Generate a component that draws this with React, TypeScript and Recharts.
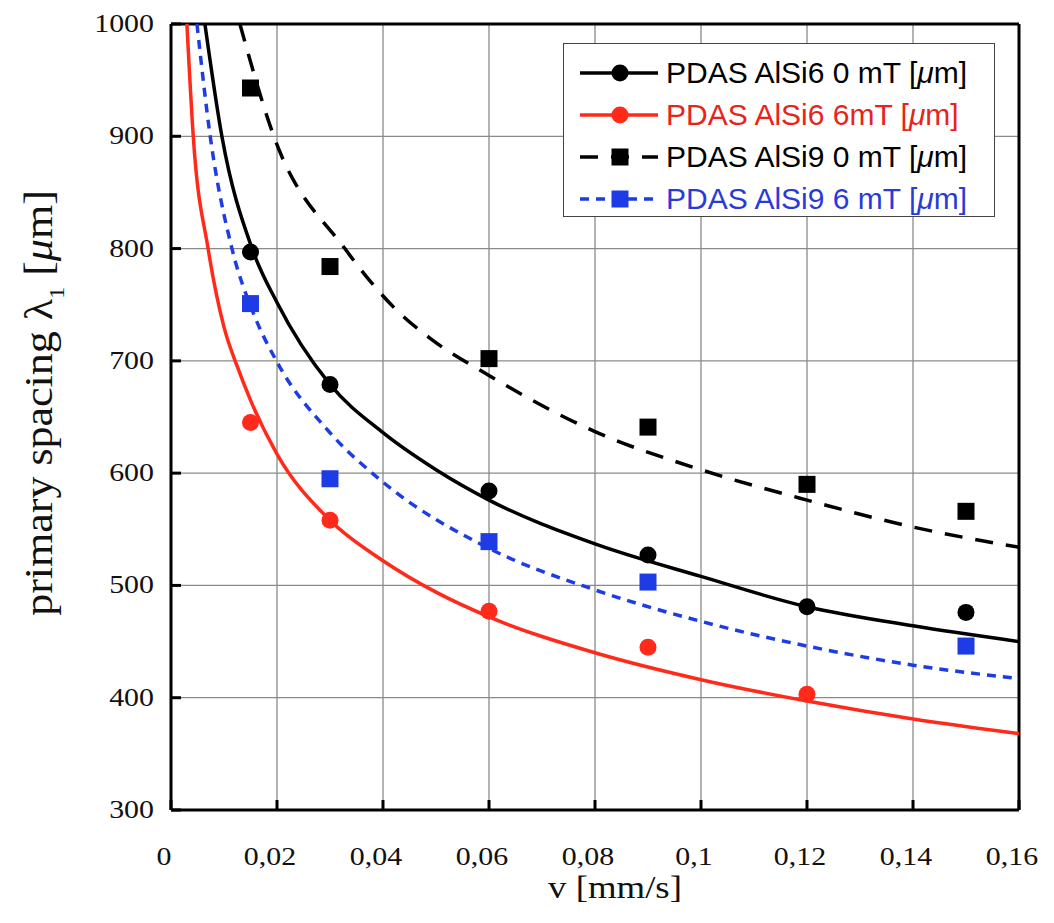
import { CartesianGrid, Legend, Scatter, ScatterChart, XAxis, YAxis } from 'recharts';

// axis ticks
const X_TICKS = [0, 0.02, 0.04, 0.06, 0.08, 0.1, 0.12, 0.14, 0.16];
const Y_TICKS = [300, 400, 500, 600, 700, 800, 900, 1000];

// measured PDAS values [µm] at the growth velocities v [mm/s]
const V_ALSI6_0 = [0.015, 0.03, 0.06, 0.09, 0.12, 0.15];
const PDAS_ALSI6_0 = [797, 679, 584, 527, 481, 476];
const V_ALSI6_6 = [0.015, 0.03, 0.06, 0.09, 0.12];
const PDAS_ALSI6_6 = [645, 558, 477, 445, 403];
const V_ALSI9_0 = [0.015, 0.03, 0.06, 0.09, 0.12, 0.15];
const PDAS_ALSI9_0 = [943, 784, 702, 641, 590, 566];
const V_ALSI9_6 = [0.015, 0.03, 0.06, 0.09, 0.15];
const PDAS_ALSI9_6 = [751, 595, 539, 503, 446];

// fitted curves as [v, λ1]
const FIT_ALSI6_0: [number, number][] = [
  [0.0064, 1000], [0.0096, 900], [0.0153, 800], [0.02, 752], [0.03, 679], [0.04, 636],
  [0.05, 603], [0.06, 576], [0.08, 537], [0.1, 508], [0.12, 481], [0.14, 464], [0.16, 450],
];
const FIT_ALSI6_6: [number, number][] = [
  [0.003, 1000], [0.0042, 900], [0.007, 800], [0.01, 730], [0.0125, 695], [0.015, 665],
  [0.02, 617], [0.03, 558], [0.04, 522], [0.05, 494], [0.06, 472], [0.08, 440], [0.1, 416],
  [0.12, 397], [0.14, 381], [0.16, 368],
];
const FIT_ALSI9_0: [number, number][] = [
  [0.013, 1000], [0.0194, 900], [0.0328, 800], [0.0426, 745], [0.0489, 720], [0.06, 687],
  [0.08, 637], [0.1, 603], [0.12, 576], [0.14, 552], [0.16, 534],
];
const FIT_ALSI9_6: [number, number][] = [
  [0.0049, 1000], [0.0074, 900], [0.0115, 800], [0.0155, 743], [0.02, 699], [0.03, 636],
  [0.04, 592], [0.06, 533], [0.08, 496], [0.1, 468], [0.12, 446], [0.14, 429], [0.16, 417],
];

const RED = '#ff2a1a';
const BLUE = '#1e3ce6';

const SERIES = [
  { key: 'a6-0', label: 'AlSi6 0 mT', v: V_ALSI6_0, y: PDAS_ALSI6_0, fit: FIT_ALSI6_0, color: '#000', text: '#000', dash: undefined, marker: 'circle' },
  { key: 'a6-6', label: 'AlSi6 6mT', v: V_ALSI6_6, y: PDAS_ALSI6_6, fit: FIT_ALSI6_6, color: RED, text: '#e8231a', dash: undefined, marker: 'circle' },
  { key: 'a9-0', label: 'AlSi9 0 mT', v: V_ALSI9_0, y: PDAS_ALSI9_0, fit: FIT_ALSI9_0, color: '#000', text: '#000', dash: '18 13', marker: 'square' },
  { key: 'a9-6', label: 'AlSi9 6 mT', v: V_ALSI9_6, y: PDAS_ALSI9_6, fit: FIT_ALSI9_6, color: BLUE, text: '#2a3ad8', dash: '9 7', marker: 'square' },
];

const SERIF = '"Liberation Serif", "Times New Roman", serif';
const SANS = '"Liberation Sans", Arial, sans-serif';

function marker(kind: string, color: string, cx: number, cy: number) {
  if (kind === 'square') return <rect x={cx - 8.5} y={cy - 8.5} width={17} height={17} fill={color} />;
  return <circle cx={cx} cy={cy} r={8.5} fill={color} />;
}

function XTick({ x, y, payload }: any) {
  const label = String(payload.value).replace('.', ',');
  return (
    <g transform={`translate(${x - 7},${y + 55}) scale(1.15,1)`}>
      <text textAnchor="middle" fontFamily={SERIF} fontSize={26} fill="#111">{label}</text>
    </g>
  );
}

function YTick({ x, y, payload }: any) {
  return (
    <g transform={`translate(${x - 17},${y + 8}) scale(1.15,1)`}>
      <text textAnchor="end" fontFamily={SERIF} fontSize={26} fill="#111">{payload.value}</text>
    </g>
  );
}

function XTitle({ viewBox }: any) {
  const cx = viewBox.x + viewBox.width / 2 + 20;
  return (
    <g transform={`translate(${cx},${viewBox.y + 88}) scale(1.15,1)`}>
      <text textAnchor="middle" fontFamily={SERIF} fontSize={32} fill="#111">v [mm/s]</text>
    </g>
  );
}

function YTitle({ viewBox }: any) {
  const cy = viewBox.y + viewBox.height / 2 - 14;
  return (
    <g transform={`translate(${viewBox.x + 44},${cy}) rotate(-90) scale(1.1,1)`}>
      <text textAnchor="middle" fontFamily={SERIF} fontSize={40} fill="#111">
        primary spacing λ
        <tspan fontSize={22} dy={12}>1</tspan>
        <tspan dy={-12}> [</tspan>
        <tspan fontStyle="italic">μ</tspan>m]
      </text>
    </g>
  );
}

function LegendBox() {
  return (
    <div
      style={{
        width: 432,
        height: 174,
        boxSizing: 'border-box',
        border: '1.5px solid #444',
        background: '#fff',
        paddingTop: 8,
      }}
    >
      {SERIES.map((s) => (
        <div key={s.key} style={{ height: 42, display: 'flex', alignItems: 'center' }}>
          <svg width={102} height={42} style={{ flex: 'none' }}>
            <line x1={16} x2={94} y1={21} y2={21} stroke={s.color} strokeWidth={3.5} strokeDasharray={s.dash} />
            {marker(s.marker, s.color, 56, 21)}
          </svg>
          <span style={{ fontFamily: SANS, fontSize: 30, color: s.text, whiteSpace: 'nowrap', lineHeight: 1 }}>
            PDAS {s.label} [<i>μ</i>m]
          </span>
        </div>
      ))}
    </div>
  );
}

export default function App() {
  return (
    <div style={{ width: 1038, height: 907 }}>
      <ScatterChart width={1038} height={907} margin={{ top: 15, right: 26, bottom: 0, left: 0 }}>
        <CartesianGrid stroke="#8a8a8a" strokeWidth={1.3} />
        <XAxis
          type="number"
          dataKey="x"
          domain={[0, 0.16]}
          ticks={X_TICKS}
          allowDataOverflow
          height={105}
          axisLine={{ stroke: '#000', strokeWidth: 3 }}
          tickLine={{ stroke: '#000', strokeWidth: 3 }}
          tickSize={-10}
          tickMargin={10}
          tick={<XTick />}
          interval={0}
          label={<XTitle />}
        />
        <XAxis
          xAxisId="top"
          orientation="top"
          type="number"
          dataKey="x"
          domain={[0, 0.16]}
          ticks={X_TICKS}
          allowDataOverflow
          height={1}
          axisLine={{ stroke: '#000', strokeWidth: 3 }}
          tickLine={{ stroke: '#000', strokeWidth: 3 }}
          tickSize={-10}
          tick={false}
          interval={0}
        />
        <YAxis
          type="number"
          dataKey="y"
          domain={[300, 1000]}
          ticks={Y_TICKS}
          allowDataOverflow
          width={163}
          axisLine={{ stroke: '#000', strokeWidth: 3 }}
          tickLine={{ stroke: '#000', strokeWidth: 3 }}
          tickSize={-10}
          tickMargin={10}
          tick={<YTick />}
          interval={0}
          label={<YTitle />}
        />
        <YAxis
          yAxisId="right"
          orientation="right"
          type="number"
          dataKey="y"
          domain={[300, 1000]}
          ticks={Y_TICKS}
          allowDataOverflow
          width={1}
          axisLine={{ stroke: '#000', strokeWidth: 3 }}
          tickLine={{ stroke: '#000', strokeWidth: 3 }}
          tickSize={-10}
          tick={false}
          interval={0}
        />
        {SERIES.map((s) => (
          <Scatter
            key={`${s.key}-fit`}
            data={s.fit.map(([x, y]) => ({ x, y }))}
            fill={s.color}
            line={{ stroke: s.color, strokeWidth: 3.5, strokeDasharray: s.dash }}
            lineJointType="monotoneX"
            shape={() => <g />}
            legendType="none"
            isAnimationActive={false}
          />
        ))}
        {SERIES.map((s) => (
          <Scatter
            key={`${s.key}-pts`}
            name={s.label}
            data={s.v.map((x, i) => ({ x, y: s.y[i] }))}
            fill={s.color}
            shape={(p: any) => marker(s.marker, s.color, p.cx, p.cy)}
            isAnimationActive={false}
          />
        ))}
        <Legend
          layout="vertical"
          align="center"
          verticalAlign="middle"
          content={() => <LegendBox />}
          wrapperStyle={{ left: 555, top: 35, width: 432, height: 174 }}
        />
      </ScatterChart>
    </div>
  );
}
